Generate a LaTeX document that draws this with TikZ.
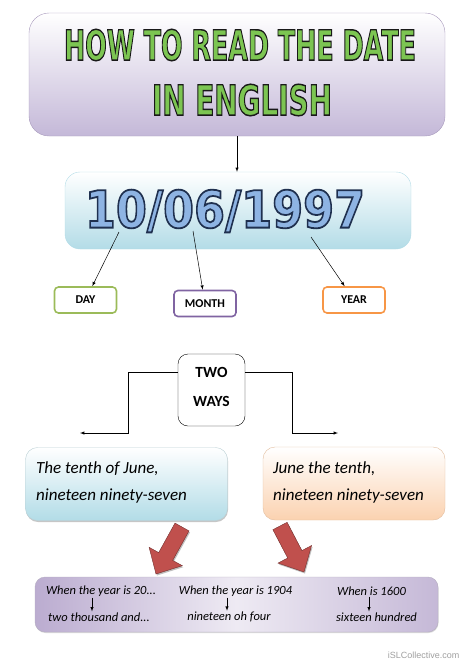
\documentclass[tikz,border=0pt]{standalone}
\usepackage{fontspec}
\setmainfont{Carlito}
\newfontfamily\dejavu{DejaVu Sans}
\newfontfamily\arial{Liberation Sans}
\usepackage{graphicx}
\usetikzlibrary{calc,shadows}
\newcommand{\outlinetext}[2]{\special{pdf:code q #1 RG 0.35 w 2 Tr}#2\special{pdf:code Q}}
\definecolor{titlegreen}{HTML}{7CC552}
\definecolor{titlelav}{HTML}{C4B8D8}
\definecolor{titleline}{HTML}{A99BBD}
\definecolor{datefill}{HTML}{8EB4E3}
\definecolor{dateblue}{HTML}{B3DCE7}
\definecolor{dayline}{HTML}{9BBB59}
\definecolor{monthline}{HTML}{8064A2}
\definecolor{yearline}{HTML}{F79646}
\definecolor{wayblue}{HTML}{B2DCE7}
\definecolor{wayorange}{HTML}{FBD2B0}
\definecolor{barlav}{HTML}{BBACD0}
\definecolor{redarrow}{HTML}{C0504D}
\tikzset{pointer/.style={-latex, line width=0.5pt, color=black}}
\tikzset{tagbox/.style={draw, rounded corners=4pt, fill=white, line width=1.6pt, minimum width=62pt, minimum height=26pt, font=\fontsize{12}{14}\selectfont\bfseries}}
\tikzset{waybox/.style={draw, rounded corners=12pt, minimum width=202pt, minimum height=73pt}}
\tikzset{waytext/.style={anchor=base west, inner sep=0pt, font=\fontsize{17}{20}\selectfont\itshape}}
\tikzset{yeartext/.style={inner sep=1pt, font=\fontsize{12.5}{14}\selectfont\itshape}}
\tikzset{blockarrow/.style={fill=redarrow, draw=redarrow!60!black, line width=0.4pt, drop shadow={opacity=0.5, shadow xshift=1pt, shadow yshift=-1.5pt}}}

\begin{document}
\begin{tikzpicture}[x=1pt, y=-1pt]%{{{
        \useasboundingbox (0,0) rectangle (474,670);

        \node[draw=titleline, rounded corners=20pt, top color=white, bottom color=titlelav, minimum width=416pt, minimum height=123pt] (title) at (237,74.5) {};
        \node (tline1) at (240,45)
        {\resizebox{352pt}{31pt}{\dejavu\bfseries\color{titlegreen}\outlinetext{0.1 0.1 0.1}{HOW TO READ THE DATE}}};
        \node (tline2) at (242,100)
        {\resizebox{180pt}{31pt}{\dejavu\bfseries\color{titlegreen}\outlinetext{0.1 0.1 0.1}{IN ENGLISH}}};

        \node[draw=dateblue, rounded corners=15pt, top color=white, bottom color=dateblue, minimum width=346pt, minimum height=77pt] (date) at (238,210.5) {};
        \node (datetext) at (225,211)
        {\resizebox{280pt}{38pt}{\dejavu\bfseries\color{datefill}\outlinetext{0.12 0.19 0.31}{10/06/1997}}};

        \draw [pointer] (title.south) -- (title.south |- date.north);

        \node[tagbox, draw=dayline] (day) at (85.5,300) {DAY};
        \node[tagbox, draw=monthline] (month) at (205,303.5) {MONTH};
        \node[tagbox, draw=yearline] (year) at (354,300) {YEAR};

        \coordinate (dd) at (119,232);
        \coordinate (dm) at (193,231);
        \coordinate (dy) at (311,237);
        \draw [pointer] (dd) -- (day);
        \draw [pointer] (dm) -- (month);
        \draw [pointer] (dy) -- (year);

        \node[draw, rounded corners=10pt, minimum width=67pt, minimum height=72pt] (ways) at (211.5,390) {};
        \node[align=center, font=\fontsize{15.5}{19}\selectfont\bfseries] (waystext) at (211.5,387)
        {TWO\\[10pt]WAYS};
        \coordinate (wl) at (80,433);
        \coordinate (wr) at (338,433);
        \draw [pointer] ([yshift=18pt]ways.west) -| ($(wl)+(48,0)$) -- (wl);
        \draw [pointer] ([yshift=18pt]ways.east) -| ($(wr)+(-46,0)$) -- (wr);

        \node[waybox, draw=wayblue!80!black!60, top color=white, bottom color=wayblue, drop shadow={opacity=0.45, shadow xshift=0.5pt, shadow yshift=-1.5pt}] (wayA) at (126.5,484) {};
        \node[waybox, draw=wayorange!90!black, top color=white, bottom color=wayorange, minimum width=182pt] (wayB) at (354,483.5) {};
        \node[waytext] (wayA1) at (36,473) {The tenth of June,};
        \node[waytext] (wayA2) at (36,500) {nineteen ninety-seven};
        \node[waytext] (wayB1) at (273,473) {June the tenth,};
        \node[waytext] (wayB2) at (273,500) {nineteen ninety-seven};

        \fill [blockarrow] (189,530.9) -- (172.7,560.4) -- (182.3,565.7) -- (156,574) -- (149.1,547.3) -- (158.7,552.6) -- (175,523.1) -- cycle;
        \fill [blockarrow] (287.1,522.3) -- (301.9,550.6) -- (311.6,545.5) -- (304,572) -- (278.0,563.1) -- (287.7,558.0) -- (272.9,529.7) -- cycle;

        \node[draw=barlav!80!black!70, rounded corners=10pt, left color=barlav, right color=barlav!85, middle color=barlav!25, minimum width=403pt, minimum height=55pt, drop shadow={opacity=0.3, shadow xshift=0.5pt, shadow yshift=-1pt}] (bar) at (236.5,604.5) {};
        \node[yeartext] (r1a) at (101,591) {When the year is 20...};
        \node[yeartext] (r2a) at (99,617) {two thousand and...};
        \node[yeartext] (r1b) at (235.5,591) {When the year is 1904};
        \node[yeartext] (r2b) at (229,617) {nineteen oh four};
        \node[yeartext] (r1c) at (371.5,591) {When is 1600};
        \node[yeartext] (r2c) at (376.5,617) {sixteen hundred};
        \draw [pointer] ([xshift=-9pt]r1a.south) -- ([xshift=-7pt]r2a.north);
        \draw [pointer] ([xshift=-8.5pt]r1b.south) -- ([xshift=-2pt]r2b.north);
        \draw [pointer] ([xshift=-2.5pt]r1c.south) -- ([xshift=-7.5pt]r2c.north);

        \node[anchor=east, text=gray!75, font=\arial\fontsize{9}{10}\selectfont] (mark) at (463,655) {iSLCollective.com};
    \end{tikzpicture}
\end{document}
